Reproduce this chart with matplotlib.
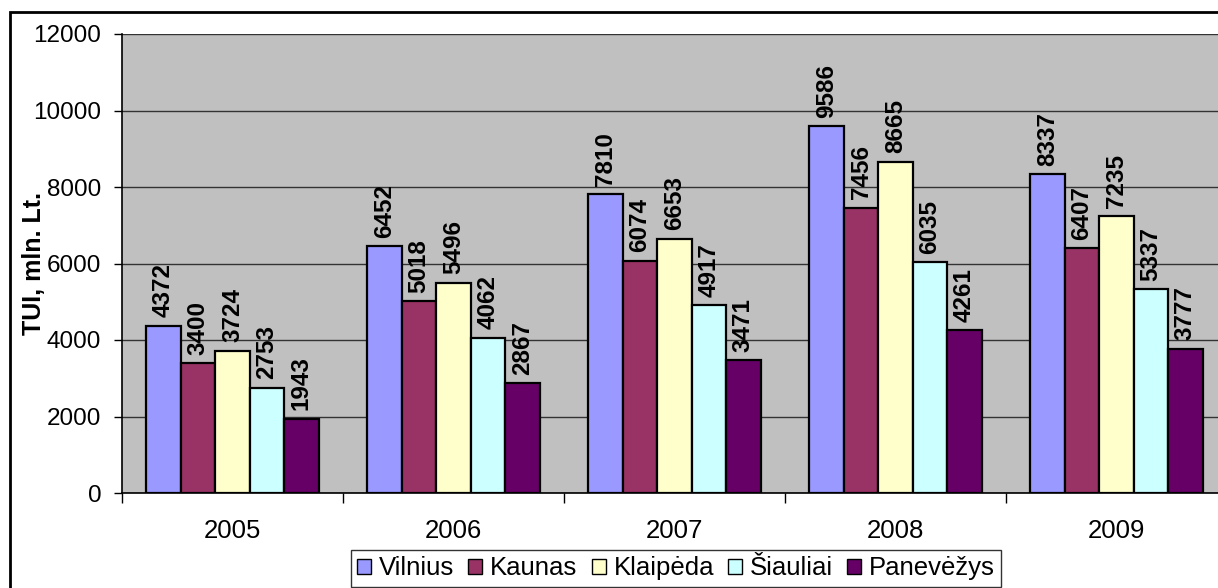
import matplotlib
matplotlib.use("Agg")
import matplotlib.pyplot as plt
from matplotlib.patches import Rectangle
import numpy as np

plt.rcParams['font.family'] = ['Liberation Sans', 'DejaVu Sans']

years = ["2005", "2006", "2007", "2008", "2009"]
cities = ["Vilnius", "Kaunas", "Klaipėda", "Šiauliai", "Panevėžys"]
vilnius = [4372, 6452, 7810, 9586, 8337]
kaunas = [3400, 5018, 6074, 7456, 6407]
klaipeda = [3724, 5496, 6653, 8665, 7235]
siauliai = [2753, 4062, 4917, 6035, 5337]
panevezys = [1943, 2867, 3471, 4261, 3777]
colors = ["#9999FF", "#993366", "#FFFFCC", "#CCFFFF", "#660066"]
series = [vilnius, kaunas, klaipeda, siauliai, panevezys]

W, H = 1218, 588
fig = plt.figure(figsize=(W / 100, H / 100), dpi=100)
ax = fig.add_axes([122 / W, 1 - 493 / H, 1105 / W, (493 - 34) / H])
ax.set_facecolor("#C0C0C0")

x = np.arange(len(years))
w = 0.156
for i, (vals, c, name) in enumerate(zip(series, colors, cities)):
    bars = ax.bar(x + (i - 2) * w, vals, w, color=c, edgecolor="black",
                  linewidth=1.6, label=name, zorder=3)
    for b, v in zip(bars, vals):
        ax.annotate(str(v), (b.get_x() + b.get_width() / 2, v),
                    xytext=(0, 6), textcoords="offset points",
                    rotation=90, ha="center", va="bottom",
                    fontsize=17.5, fontweight="bold", zorder=4)

ax.set_ylim(0, 12000)
ax.set_xlim(-0.5, 4.5)
ax.set_yticks(range(0, 12001, 2000))
ax.yaxis.grid(True, color="#333333", linewidth=1.0, zorder=1)
ax.set_axisbelow(True)
ax.tick_params(axis="y", labelsize=17.5, length=6, width=1, pad=9, direction="out")
ax.set_xticks(x)
ax.set_xticklabels(years)
ax.tick_params(axis="x", which="major", length=0, labelsize=18.5, pad=19)
ax.set_xticks(np.arange(-0.5, 5.0, 1.0), minor=True)
ax.tick_params(axis="x", which="minor", length=7, width=1, direction="out")
for s in ["top", "right"]:
    ax.spines[s].set_visible(False)
ax.spines["left"].set_linewidth(1.2)
ax.spines["bottom"].set_linewidth(1.2)

ax.set_ylabel("TUI, mln. Lt.", fontsize=18, fontweight="bold")
ax.yaxis.set_label_coords(-76 / 1105, 0.5)

leg = fig.legend(loc="upper center", bbox_to_anchor=(676 / W, 1 - 550 / H),
                 ncol=5, fontsize=18.5, frameon=True, fancybox=False,
                 edgecolor="black", handlelength=0.55, handleheight=0.55,
                 handletextpad=0.3, columnspacing=0.55, borderpad=0.25,
                 borderaxespad=0)
leg.get_frame().set_linewidth(1.0)
for h in leg.legend_handles:
    h.set_linewidth(1.0)

fig.patches.append(Rectangle((10 / W, -0.2), 1.2, 1.2 - 12 / H,
                             transform=fig.transFigure, fill=False,
                             edgecolor="black", linewidth=2))

fig.savefig("out.png", dpi=100)
